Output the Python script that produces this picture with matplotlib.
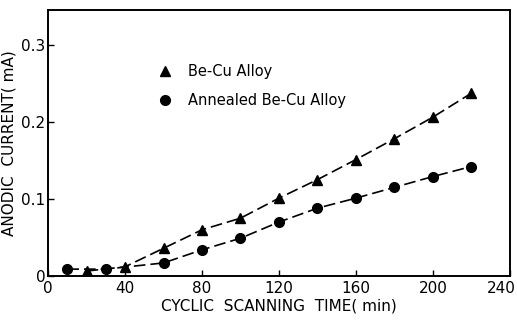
import matplotlib.pyplot as plt
from matplotlib.transforms import ScaledTranslation

# anodic current vs cyclic scanning time for the two alloy states
time_becu = [20, 40, 60, 80, 100, 120, 140, 160, 180, 200, 220]
current_becu = [0.0065, 0.012, 0.036, 0.060, 0.075, 0.101, 0.125, 0.151, 0.178, 0.206, 0.237]

time_annealed = [10, 30, 60, 80, 100, 120, 140, 160, 180, 200, 220]
current_annealed = [0.009, 0.009, 0.017, 0.034, 0.049, 0.070, 0.088, 0.101, 0.115, 0.129, 0.142]

x_ticks = [0, 40, 80, 120, 160, 200, 240]
y_ticks = [0, 0.1, 0.2, 0.3]
y_tick_labels = ["0", "0.1", "0.2", "0.3"]

plt.rcParams['font.family'] = ['DejaVu Sans']

fig = plt.figure(figsize=(5.17, 3.21), dpi=100)
ax = fig.add_axes([0.093, 0.140, 0.893, 0.829])

ax.plot(time_becu, current_becu, color='black', linestyle=(0, (7, 3)), linewidth=1.2,
        marker='^', markersize=7.5, label='Be-Cu Alloy')
ax.plot(time_annealed, current_annealed, color='black', linestyle=(0, (7, 3)), linewidth=1.2,
        marker='o', markersize=7, label='Annealed Be-Cu Alloy')

ax.set_xlim(0, 240)
ax.set_ylim(0, 0.345)
ax.set_xticks(x_ticks)
ax.set_yticks(y_ticks)
ax.set_yticklabels(y_tick_labels)
ax.tick_params(direction='in', length=4, width=1, labelsize=11, colors='black')
ax.tick_params(axis='y', pad=2)

# pull the last x label in so it stays on the canvas
last = ax.get_xticklabels()[-1]
last.set_transform(last.get_transform() + ScaledTranslation(-6 / 72, 0, fig.dpi_scale_trans))

for s in ax.spines.values():
    s.set_linewidth(1.4)

ax.set_xlabel('CYCLIC  SCANNING  TIME( min)', fontsize=11, labelpad=2)
ax.set_ylabel('ANODIC  CURRENT( mA)', fontsize=11, labelpad=3)

ax.legend(loc='upper left', bbox_to_anchor=(0.205, 0.845), frameon=False,
          fontsize=10.5, handlelength=1.2, labelspacing=0.95, handletextpad=1.0)
# keep just the markers in the legend keys
for h in ax.get_legend().legend_handles:
    h.set_linestyle('none')

fig.savefig('out.png', dpi=100)
